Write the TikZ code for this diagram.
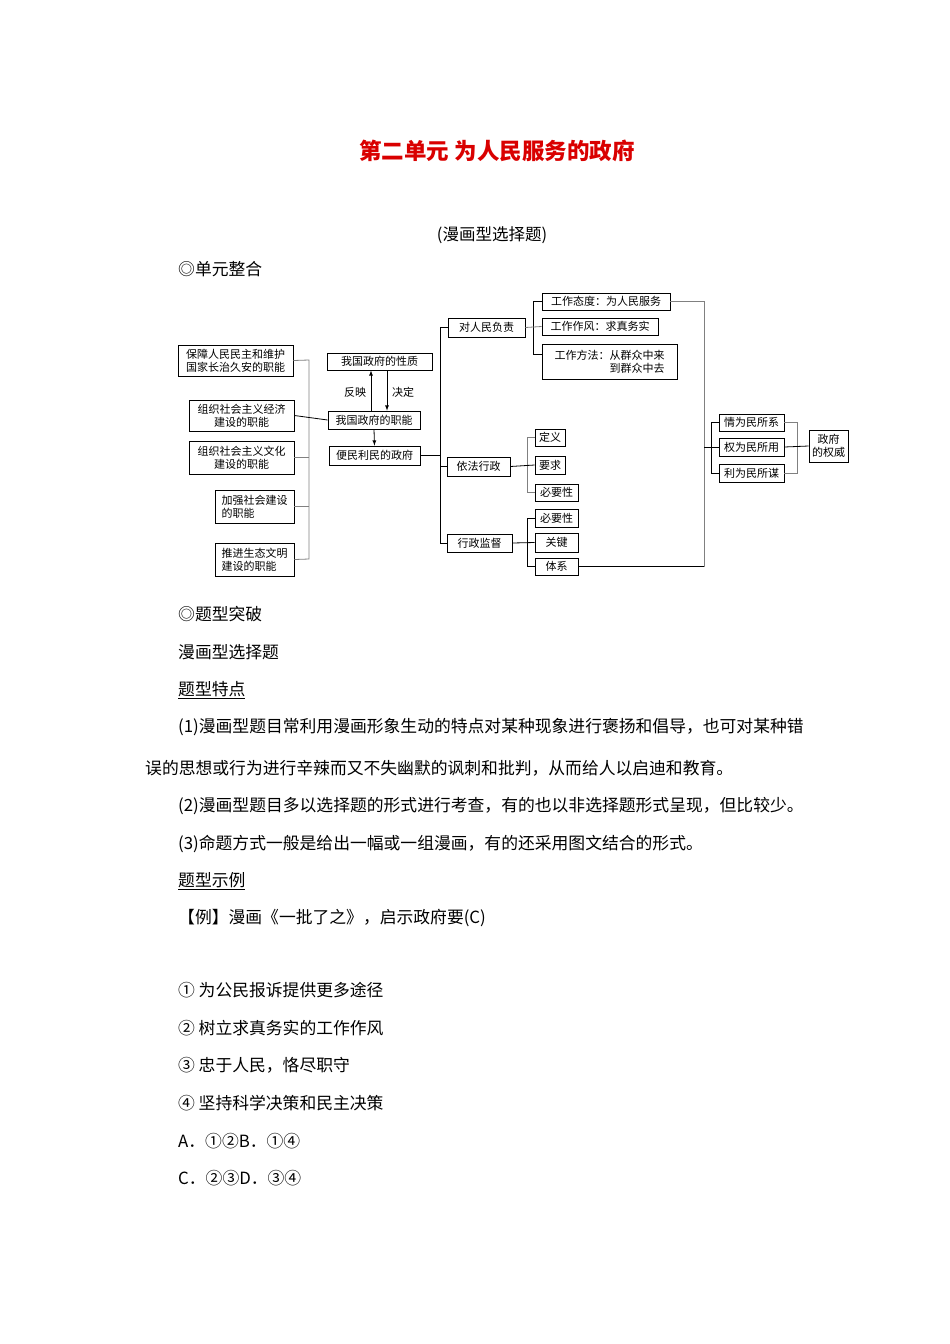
\documentclass[tikz,border=0pt]{standalone}
\usepackage{fontspec}
\setmainfont{Noto Sans CJK SC}
\begin{document}
\begin{tikzpicture}[x=1pt,y=-1pt,
 bx/.style={draw,thick,inner sep=0pt,font=\fontsize{11}{13}\selectfont,align=center},
 ln/.style={draw,line width=0.8pt},
 gl/.style={draw,gray,line width=0.8pt},
 tx/.style={anchor=west,inner sep=0pt,font=\fontsize{16.8}{19}\selectfont},
 sm/.style={inner sep=0pt,font=\fontsize{11}{13}\selectfont}]
\useasboundingbox (0,0) rectangle (950,1344);
\node[red!85!black,font=\bfseries\fontsize{22.5}{25}\selectfont] (title) at (497,151) {第二单元\ 为人民服务的政府};
\node[font=\fontsize{16.5}{19}\selectfont] (sub) at (492,235) {(漫画型选择题)};
\node[tx] (t0) at (178,269) {◎单元整合};
% left boxes
\node[bx,minimum width=115,minimum height=31] (a1) at (235.5,360.5) {保障人民民主和维护\\国家长治久安的职能};
\node[bx,minimum width=105,minimum height=31] (a2) at (241.5,415.5) {组织社会主义经济\\建设的职能};
\node[bx,minimum width=105,minimum height=33] (a3) at (241.5,457.5) {组织社会主义文化\\建设的职能};
\node[bx,minimum width=79,minimum height=33,align=left] (a4) at (254.5,506.5) {加强社会建设\\的职能};
\node[bx,minimum width=79,minimum height=33,align=left] (a5) at (254.5,559.5) {推进生态文明\\建设的职能};
\coordinate (lv1) at (309,360);
\coordinate (lv5) at (309,559);
\draw[gl] (a1.east) -- (lv1) -- (lv5) -- (a5.east);
\draw[gl] (a3.east) -- (a3.east -| lv1);
\draw[gl] (a4.east) -- (a4.east -| lv1);
% center
\node[bx,minimum width=105,minimum height=17] (xz) at (379.5,361.5) {我国政府的性质};
\node[bx,minimum width=92,minimum height=18] (zn) at (374,420) {我国政府的职能};
\node[bx,minimum width=91,minimum height=19] (bm) at (374.5,455.5) {便民利民的政府};
\draw[ln] (a2.east) -- (zn.west);
\draw[ln,-latex] (zn.north -| 371,0) -- (xz.south -| 371,0);
\draw[ln,-latex] (xz.south -| 387,0) -- (zn.north -| 387,0);
\draw[ln,-latex] (zn.south) -- (bm.north);
\node[sm] (fy) at (355,392) {反映};
\node[sm] (jd) at (403,392) {决定};
% middle column
\node[bx,minimum width=77,minimum height=19] (b1) at (486.5,327.5) {对人民负责};
\node[bx,minimum width=63,minimum height=19] (b2) at (478.5,466.5) {依法行政};
\node[bx,minimum width=65,minimum height=18] (b3) at (479.5,543) {行政监督};
\coordinate (m1) at (440,327.5);
\coordinate (m3) at (440,543);
\draw[ln] (bm.east) -- (bm.east -| m1);
\draw[ln] (b1.west) -- (m1) -- (m3) -- (b3.west);
\draw[ln] (b2.west) -- (b2.west -| m1);
% right of b1
\node[bx,minimum width=128,minimum height=17] (c1) at (606,301.5) {工作态度：为人民服务};
\node[bx,minimum width=116,minimum height=17] (c2) at (600,326.5) {工作作风：求真务实};
\node[bx,minimum width=135,minimum height=35,align=right] (c3) at (609.5,361.5) {工作方法：从群众中来\\到群众中去};
\draw[ln] (c1.west) -- (533,301.5) -- (533,354) -- (542,354);
\draw[gl] (b1.east) -- (c2.west);
% right of b2
\node[bx,minimum width=30,minimum height=17] (d1) at (550,437.5) {定义};
\node[bx,minimum width=30,minimum height=18] (d2) at (550,465) {要求};
\node[bx,minimum width=43,minimum height=17] (d3) at (556.5,492.5) {必要性};
\draw[gl] (d1.west) -- (527,437.5) -- (527,492.5) -- (d3.west);
\draw[ln] (b2.east) -- (d2.west);
% right of b3
\node[bx,minimum width=43,minimum height=18] (e1) at (556.5,518) {必要性};
\node[bx,minimum width=43,minimum height=19] (e2) at (556.5,542.5) {关键};
\node[bx,minimum width=43,minimum height=17] (e3) at (556.5,566.5) {体系};
\draw[ln] (e1.west) -- (527,518) -- (527,566.5) -- (e3.west);
\draw[ln] (b3.east) -- (e2.west);
% far right
\coordinate (r1) at (704,301.5);
\coordinate (r2) at (704,566.5);
\draw[gl] (c1.east) -- (r1) -- (r2);
\draw[ln] (e3.east) -- (r2);
\node[bx,minimum width=65,minimum height=17] (f1) at (751.5,422.5) {情为民所系};
\node[bx,minimum width=65,minimum height=18] (f2) at (751.5,447) {权为民所用};
\node[bx,minimum width=65,minimum height=18] (f3) at (751.5,473) {利为民所谋};
\node[bx,minimum width=39,minimum height=32] (g) at (828.5,446) {政府\\的权威};
\draw[ln] (704,447) -- (711,447);
\draw[ln] (f1.west) -- (711,422.5) -- (711,473) -- (f3.west);
\draw[ln] (f2.west) -- (711,447);
\draw[gl] (f1.east) -- (797,422.5) -- (797,473) -- (f3.east);
\draw[ln] (f2.east) -- (g.west);
% text
\node[tx] (t1) at (178,614) {◎题型突破};
\node[tx] (t2) at (178,652) {漫画型选择题};
\node[tx] (t3) at (178,690) {\underline{题型特点}};
\node[tx] (t4) at (178,727) {(1)漫画型题目常利用漫画形象生动的特点对某种现象进行褒扬和倡导，也可对某种错};
\node[tx] (t5) at (145,768) {误的思想或行为进行辛辣而又不失幽默的讽刺和批判，从而给人以启迪和教育。};
\node[tx] (t6) at (178,806) {(2)漫画型题目多以选择题的形式进行考查，有的也以非选择题形式呈现，但比较少。};
\node[tx] (t7) at (178,844) {(3)命题方式一般是给出一幅或一组漫画，有的还采用图文结合的形式。};
\node[tx] (t8) at (178,881) {\underline{题型示例}};
\node[tx] (t9) at (178,918) {【例】漫画《一批了之》，启示政府要(C)};
\node[tx] (u1) at (178,990) {① 为公民报诉提供更多途径};
\node[tx] (u2) at (178,1028) {② 树立求真务实的工作作风};
\node[tx] (u3) at (178,1065) {③ 忠于人民，恪尽职守};
\node[tx] (u4) at (178,1103) {④ 坚持科学决策和民主决策};
\node[tx] (u5) at (178,1141) {A．①②B．①④};
\node[tx] (u6) at (178,1178) {C．②③D．③④};
\end{tikzpicture}
\end{document}
